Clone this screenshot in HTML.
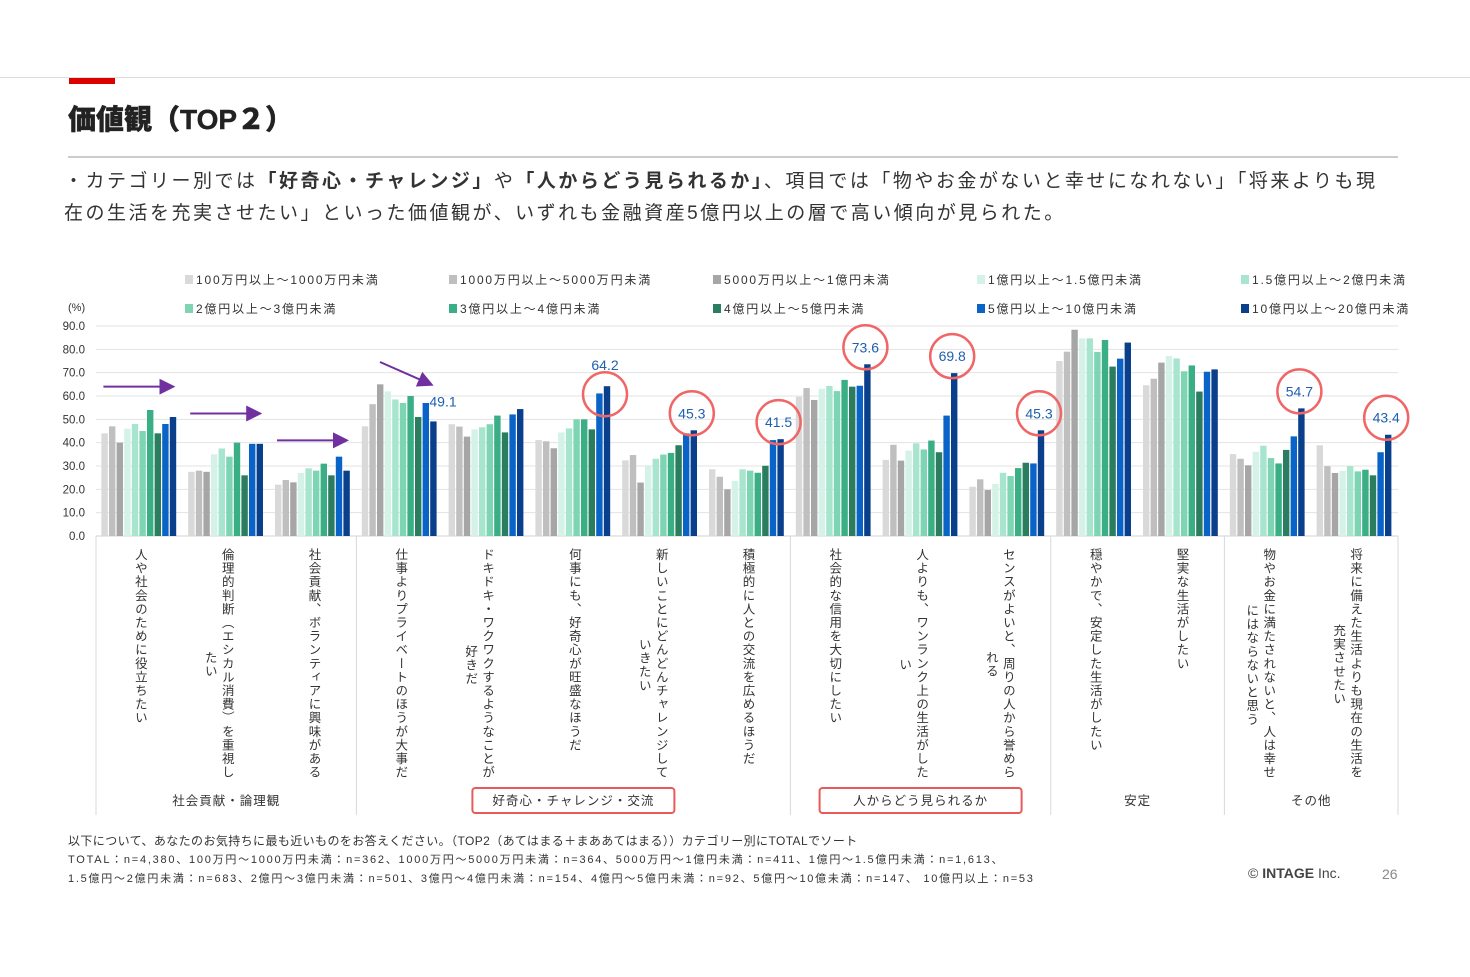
<!DOCTYPE html>
<html><head><meta charset="utf-8">
<style>
body{margin:0;width:1470px;height:977px;background:#fff;font-family:"Liberation Sans","Noto Sans CJK JP",sans-serif;position:relative;overflow:hidden;color:#222}
.abs{position:absolute}
.lbl{position:absolute;top:548px;writing-mode:vertical-rl;font-size:12.5px;letter-spacing:1.1px;color:#333;line-height:17px;white-space:nowrap}
</style></head><body>
<div class="abs" style="left:0;top:77px;width:1470px;height:1px;background:#ddd"></div>
<div class="abs" style="left:69px;top:78px;width:46px;height:6px;background:#d00"></div>
<div class="abs" style="left:68px;top:98px;font-size:28px;font-weight:900;color:#222;-webkit-text-stroke:0.4px #222">価値観（TOP２）</div>
<div class="abs" style="left:68px;top:156px;width:1330px;height:2px;background:#ccc"></div>
<div class="abs" style="left:64px;top:166px;width:1400px;white-space:nowrap;font-size:19px;letter-spacing:2.5px;line-height:32px;color:#333">・カテゴリー別では<b>「好奇心・チャレンジ」</b>や<b>「人からどう見られるか」</b>、項目では「物やお金がないと幸せになれない」「将来よりも現<br>在の生活を充実させたい」といった価値観が、いずれも金融資産5億円以上の層で高い傾向が見られた。</div>
<svg class="abs" style="left:0;top:0" width="1470" height="977" id="chart"></svg>
<div class="abs" style="left:68px;top:832px;font-size:12px;letter-spacing:0.4px;line-height:18px;color:#333">以下について、あなたのお気持ちに最も近いものをお答えください。（TOP2（あてはまる＋まああてはまる））カテゴリー別にTOTALでソート<br><span style="font-size:11px;letter-spacing:1.75px">TOTAL：n=4,380、100万円～1000万円未満：n=362、1000万円～5000万円未満：n=364、5000万円～1億円未満：n=411、1億円～1.5億円未満：n=1,613、<br>1.5億円～2億円未満：n=683、2億円～3億円未満：n=501、3億円～4億円未満：n=154、4億円～5億円未満：n=92、5億円～10億未満：n=147、 10億円以上：n=53</span></div>
<div class="abs" style="left:1248px;top:865px;font-size:14px;color:#444">© <b>INTAGE</b> Inc.</div>
<div class="abs" style="left:1382px;top:866px;font-size:14px;color:#888">26</div>
<script>
const categories=["人や社会のために役立ちたい","倫理的判断（エシカル消費）を重視し|たい","社会貢献、ボランティアに興味がある","仕事よりプライベートのほうが大事だ","ドキドキ・ワクワクするようなことが|好きだ","何事にも、好奇心が旺盛なほうだ","新しいことにどんどんチャレンジして|いきたい","積極的に人との交流を広めるほうだ","社会的な信用を大切にしたい","人よりも、ワンランク上の生活がした|い","センスがよいと、周りの人から誉めら|れる","穏やかで、安定した生活がしたい","堅実な生活がしたい","物やお金に満たされないと、人は幸せ|にはならないと思う","将来に備えた生活よりも現在の生活を|充実させたい"];
const seriesNames=["100万円以上～1000万円未満","1000万円以上～5000万円未満","5000万円以上～1億円未満","1億円以上～1.5億円未満","1.5億円以上～2億円未満","2億円以上～3億円未満","3億円以上～4億円未満","4億円以上～5億円未満","5億円以上～10億円未満","10億円以上～20億円未満"];
const s1=[44,27.5,22,47,47.9,41.1,32.4,28.6,59.7,32.6,21.1,75,64.6,35.1,38.9];
const s2=[47,28,24,56.5,46.9,40.6,34.7,25.4,63.4,39.1,24.3,79,67.4,33.1,29.9];
const s3=[40,27.5,23,65,42.6,37.6,22.9,20,58.3,32.3,19.7,88.4,74.3,30.3,27];
const s4=[46,35,27,62,45.7,44.4,30.3,23.6,63.1,36.6,22.3,84.7,77.1,36.1,27.9];
const s5=[48,37.5,29,58.5,46.6,46.1,33.1,28.6,64.3,39.7,27.1,84.7,76.1,38.7,30];
const s6=[45,34,28,57,47.9,50,34.9,28,62.1,37.1,25.7,78.9,70.6,33.4,27.7];
const s7=[54,40,31,60,51.6,50,35.6,27.1,66.9,40.9,29.1,84,73.1,31.1,28.4];
const s8=[44,26,26,51,44.4,45.7,38.9,30.1,64,35.9,31.4,72.6,61.9,36.9,26];
const s9=[48,39.5,34,57,52.1,61.1,44,41.1,64.4,51.6,31.1,76,70.4,42.7,35.9];
const s10=[51,39.5,28,49.1,54.4,64.2,45.3,41.5,73.6,69.8,45.3,82.9,71.4,54.7,43.4];
const yTicks=[0,10,20,30,40,50,60,70,80,90];
const highlighted=[3,5,6,7,8,9,10,13,14];
const circled=[5,6,7,8,9,10,13,14];
const groupNames=["社会貢献・論理観","好奇心・チャレンジ・交流","人からどう見られるか","安定","その他"];
const groupSpans=[[0,3],[3,8],[8,11],[11,13],[13,15]];
const series=[s1,s2,s3,s4,s5,s6,s7,s8,s9,s10];
const colors=["#d9d9d9","#bfbfbf","#a6a6a6","#d5f2e8","#a7e5cf","#7dd5b4","#3aae84","#2a7d5e","#0a64c7","#0a3f8c"];
const NS="http://www.w3.org/2000/svg";
const svg=document.getElementById('chart');
const X0=96,X1=1398,Y0=536,YT=326,YMAX=90;
const gw=(X1-X0)/categories.length;
const y=v=>Y0-(v/YMAX)*(Y0-YT);
const gx=i=>X0+gw*i+gw/2;
const bx=(i,k)=>gx(i)-38+k*7.6;
function mk(t,a,p){const e=document.createElementNS(NS,t);for(const k in a)e.setAttribute(k,a[k]);(p||svg).appendChild(e);return e;}
yTicks.forEach(t=>{
 const l=mk('line',{x1:X0,x2:X1,y1:y(t),y2:y(t),stroke:t?'#e3e3e3':'#d0d0d0','stroke-width':1});
 
 
 const tx=mk('text',{x:85,y:y(t)+4,'text-anchor':'end','font-size':11.5,fill:'#333'});tx.textContent=t.toFixed(1);
 
 
});
const u=mk('text',{x:68,y:311,'font-size':11,fill:'#333'});u.textContent='(%)';


const seps=[0,3,8,11,13,15];
seps.forEach(s=>{const l=mk('line',{x1:X0+gw*s,x2:X0+gw*s,y1:Y0,y2:815,stroke:'#d8d8d8'});
 
 });
series.forEach((arr,k)=>arr.forEach((v,i)=>{
 const r=mk('rect',{x:bx(i,k),y:y(v),width:6.4,height:Y0-y(v),fill:colors[k]});
 
 
}));
highlighted.forEach(i=>{
 const v=s10[i];const cx=bx(i,9)+3.2;
 const t=mk('text',{x:cx-2,y:y(v)-12,'text-anchor':'middle','font-size':14,fill:'#2060b0'});t.textContent=v.toFixed(1);
 if(i===3){t.setAttribute('x',cx-4);t.setAttribute('y',y(v)-15);t.setAttribute('text-anchor','start');}
 if(i===5){t.setAttribute('y',y(v)-16);}
 
 
 if(circled.includes(i)){const c=mk('circle',{cx:cx-2,cy:y(v)-17,r:22,fill:'none',stroke:'#f06666','stroke-width':2.5});
 if(i===5){c.setAttribute('cy',y(v)+8);}
 
 }
});
mk('defs',{}).innerHTML='<marker id="ah" markerWidth="8" markerHeight="8" refX="6" refY="4" orient="auto"><path d="M0,0 L8,4 L0,8 z" fill="#7030a0"/></marker>';
[[0,51],[1,39.5],[2,28]].forEach(([i,v])=>{
 const a=mk('line',{x1:gx(i)-36,x2:gx(i)+32,y1:y(v+13),y2:y(v+13),stroke:'#7030a0','stroke-width':2,'marker-end':'url(#ah)'});
 
 
});
const da=mk('line',{x1:380,y1:362,x2:430,y2:384,stroke:'#7030a0','stroke-width':2,'marker-end':'url(#ah)'});


groupSpans.forEach(([a,b],j)=>{
 const cx=X0+gw*(a+b)/2;
 const t=mk('text',{x:cx,y:805,'text-anchor':'middle','font-size':12.5,fill:'#333','letter-spacing':1});t.textContent=groupNames[j];
 
 
 if(j===1||j===2){const r=mk('rect',{x:cx-101,y:788,width:202,height:25,rx:3,fill:'none',stroke:'#e85a5a','stroke-width':2});
  
  }
});
seriesNames.forEach((n,k)=>{
 const col=k%5,row=Math.floor(k/5);
 const lx=185+col*264,ly=283+row*29;
 const r=mk('rect',{x:lx,y:ly-8,width:8,height:9,fill:colors[k]});
 
 
 const t=mk('text',{x:lx+11,y:ly+1,'font-size':12,fill:'#333','letter-spacing':1.8});t.textContent=n;
 
 
});
categories.forEach((c,i)=>{
 const d=document.createElement('div');d.className='lbl';
 
 
 const parts=c.split('|');
 let h=parts[0];
 if(parts[1]){const mt=Math.max(0,Math.round(117-parts[1].length*13.6/2));h+='<br><span style="display:inline-block;margin-top:'+mt+'px">'+parts[1]+'</span>';}
 d.innerHTML=h;
 document.body.appendChild(d);
 const w=parts[1]?34:17;
 d.style.left=(gx(i)+8.5-w)+'px';
});
</script>
</body></html>
